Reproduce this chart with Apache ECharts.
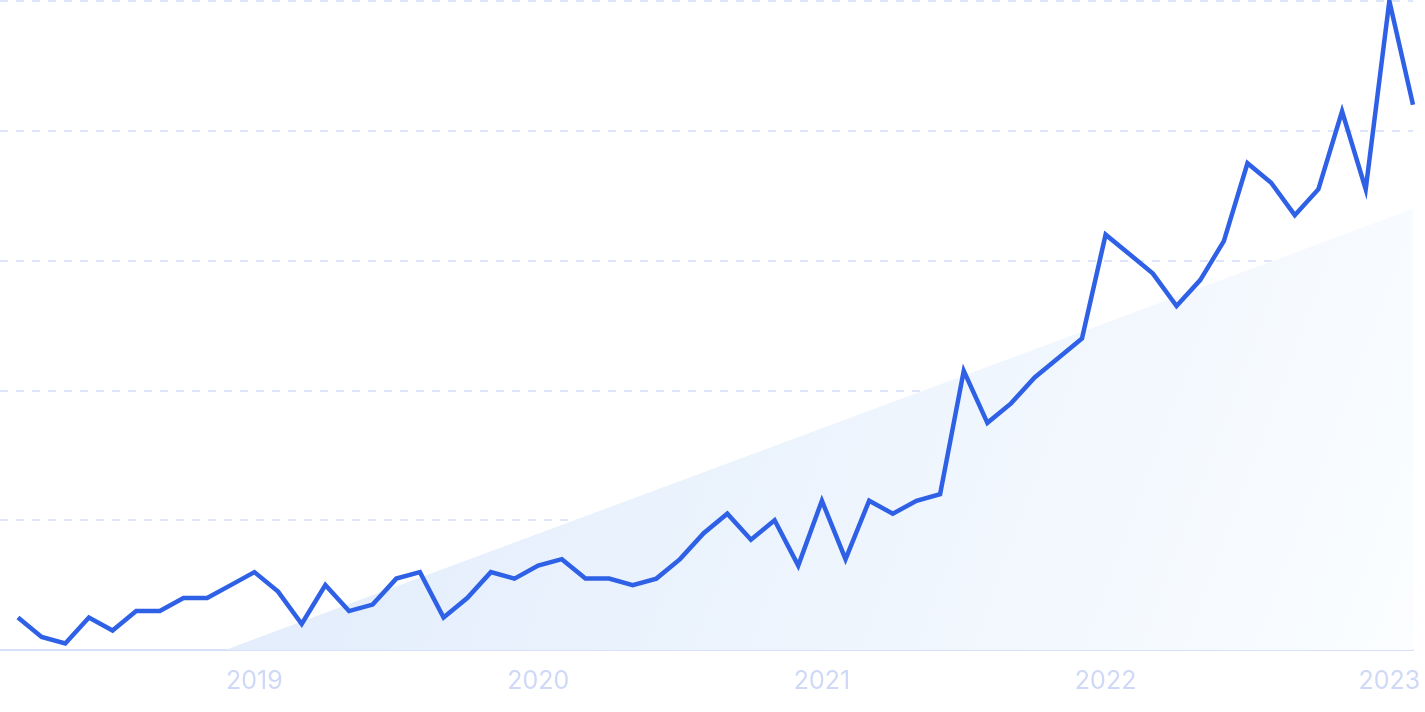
<!DOCTYPE html>
<html>
<head>
<meta charset="utf-8">
<script src="https://cdn.jsdelivr.net/npm/echarts@6/dist/echarts.min.js"></script>
<style>
html,body{margin:0;padding:0;background:#fff;}
#chart{width:1425px;height:712px;}
</style>
</head>
<body>
<div id="chart"></div>
<script>
// Monthly points, 2018-03 .. 2023-02
const months = [
  '2018-03','2018-04','2018-05','2018-06','2018-07','2018-08','2018-09','2018-10','2018-11','2018-12',
  '2019-01','2019-02','2019-03','2019-04','2019-05','2019-06','2019-07','2019-08','2019-09','2019-10','2019-11','2019-12',
  '2020-01','2020-02','2020-03','2020-04','2020-05','2020-06','2020-07','2020-08','2020-09','2020-10','2020-11','2020-12',
  '2021-01','2021-02','2021-03','2021-04','2021-05','2021-06','2021-07','2021-08','2021-09','2021-10','2021-11','2021-12',
  '2022-01','2022-02','2022-03','2022-04','2022-05','2022-06','2022-07','2022-08','2022-09','2022-10','2022-11','2022-12',
  '2023-01','2023-02'
];
const values = [
  5, 2, 1, 5, 3, 6, 6, 8, 8, 10,
  12, 9, 4, 10, 6, 7, 11, 12, 5, 8, 12, 11,
  13, 14, 11, 11, 10, 11, 14, 18, 21, 17, 20, 13,
  23, 14, 23, 21, 23, 24, 43, 35, 38, 42, 45, 48,
  64, 61, 58, 53, 57, 63, 75, 72, 67, 71, 83, 71,
  100, 84
];
// Year tick labels and the month index they sit on
const yearLabels = ['2019', '2020', '2021', '2022', '2023'];
const yearIndex = [10, 22, 34, 46, 58];
// Trend line endpoints [month index, value]
const trendStart = [8.76, 0];
const trendEnd = [59, 68];

const lineData = values.map((v, i) => [i, v]);

const chart = echarts.init(document.getElementById('chart'), null, {renderer: 'canvas'});
chart.setOption({
  animation: false,
  backgroundColor: '#ffffff',
  grid: {left: 0, right: 12, top: 1, bottom: 62, containLabel: false},
  xAxis: {
    type: 'value',
    min: -0.76,
    max: 59,
    axisLine: {show: true, lineStyle: {color: '#d6e0fb', width: 2}},
    axisTick: {show: false},
    splitLine: {show: false},
    axisLabel: {
      customValues: yearIndex,
      formatter: function (v) {
        const k = yearIndex.indexOf(Math.round(v));
        return k >= 0 ? yearLabels[k] : '';
      },
      color: '#cfd9f7',
      fontFamily: 'Inter',
      fontSize: 25,
      margin: 19
    }
  },
  yAxis: {
    type: 'value',
    min: 0,
    max: 100,
    interval: 20,
    axisLine: {show: false},
    axisTick: {show: false},
    axisLabel: {show: false},
    splitLine: {show: true, lineStyle: {color: '#d5defa', width: 1.5, type: [8, 8]}}
  },
  series: [
    {
      type: 'line',
      data: [trendStart, trendEnd],
      symbol: 'none',
      silent: true,
      lineStyle: {width: 0, opacity: 0},
      areaStyle: {
        opacity: 1,
        color: new echarts.graphic.LinearGradient(0, 0, 1, 1, [
          {offset: 0, color: '#e0ebfb'},
          {offset: 0.45, color: '#ebf3fd'},
          {offset: 1, color: '#fbfdff'}
        ])
      },
      z: 1
    },
    {
      type: 'line',
      data: lineData,
      symbol: 'none',
      clip: false,
      lineStyle: {color: '#2f61e6', width: 4.5, join: 'miter'},
      z: 3
    }
  ]
});
</script>
</body>
</html>
